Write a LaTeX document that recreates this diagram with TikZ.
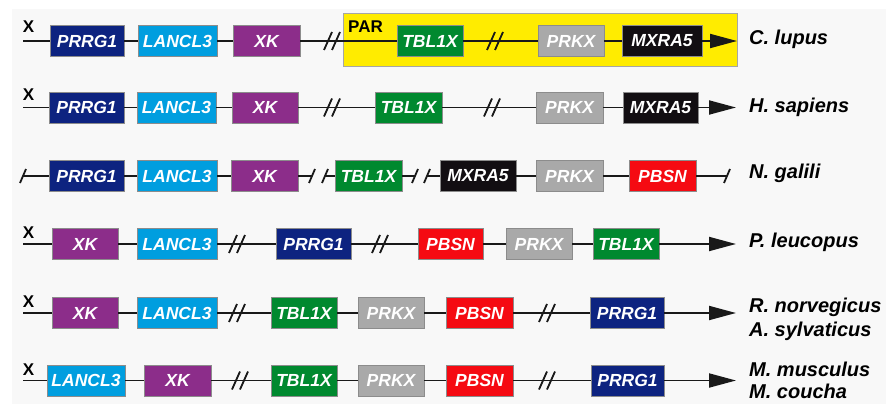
\documentclass[tikz,border=0pt]{standalone}
\usepackage{fontspec}
\setmainfont{Liberation Sans}
\usetikzlibrary{arrows.meta}

\definecolor{cNavy}{HTML}{0D2380}
\definecolor{cSky}{HTML}{009EDF}
\definecolor{cPurple}{HTML}{8C2D8A}
\definecolor{cGreen}{HTML}{00892F}
\definecolor{cGray}{HTML}{A9A9A9}
\definecolor{cBlack}{HTML}{120E12}
\definecolor{cRed}{HTML}{F50A12}
\definecolor{cYellow}{HTML}{FFEC00}
\definecolor{cPanel}{HTML}{F8F8F8}

\tikzset{
  gene/.style={draw=black!45, line width=0.7pt, minimum height=31pt, inner sep=0pt,
    text=white, font=\fontsize{17.5}{20}\selectfont\bfseries\itshape},
  chrom/.style={line width=1.9pt, black!90},
  tochr/.style={chrom, -{Triangle[length=27pt,width=14pt]}},
  slashln/.style={line width=1.8pt, black!90},
  species/.style={anchor=base west, inner sep=0pt, font=\fontsize{20}{22}\selectfont\bfseries\itshape},
  xmark/.style={inner sep=0pt, font=\fontsize{17}{20}\selectfont\bfseries},
  dbreak/.pic={\draw[slashln] (-8,9) -- (0,-9) (0,9) -- (8,-9);},
  sbreak/.pic={\draw[slashln] (-3,7) -- (3,-7);}
}

% \gene{name}{left}{right}{y}{colour}{text}
\newcommand\gene[6]{\node[gene, fill=#5, minimum width={#3-#2}] (#1) at ({(#2+#3)/2},#4) {#6};}

\begin{document}
\begin{tikzpicture}[x=1pt,y=-1pt]
\useasboundingbox (0,0) rectangle (886,404);
\fill[white] (0,0) rectangle (886,404);
\fill[cPanel] (12,9) rectangle (886,404);

% pseudoautosomal region
\node[draw=black!35, line width=0.8pt, fill=cYellow, minimum width=394pt, minimum height=53pt,
  inner sep=0pt] (par) at (540,39.5) {};
\node[anchor=base west, inner sep=0pt, font=\fontsize{17}{20}\selectfont\bfseries] (partxt) at (348,33) {PAR};

% ---- C. lupus
\node[xmark] (x1) at (28.5,26.5) {X};
\coordinate (r1s) at (23,41);
\gene{r1a}{50}{124}{41}{cNavy}{PRRG1}
\gene{r1b}{138}{217}{41}{cSky}{LANCL3}
\gene{r1c}{233}{300}{41}{cPurple}{XK}
\gene{r1d}{397}{463}{41}{cGreen}{TBL1X}
\gene{r1e}{538}{604}{41}{cGray}{PRKX}
\gene{r1f}{622}{702}{41}{cBlack}{MXRA5}
\coordinate (r1t) at (737,41);
\draw[tochr] (r1s) -- (r1a) -- (r1b) -- (r1c) -- (r1d) -- (r1e) -- (r1f) -- (r1t);
\pic at (332,41) {dbreak};
\pic at (495,41) {dbreak};
\node[species] (l1) at (749,45) {C. lupus};

% ---- H. sapiens
\node[xmark] (x2) at (28.5,94.5) {X};
\coordinate (r2s) at (23,107.5);
\gene{r2a}{49}{124}{107.5}{cNavy}{PRRG1}
\gene{r2b}{137}{216}{107.5}{cSky}{LANCL3}
\gene{r2c}{232}{298}{107.5}{cPurple}{XK}
\gene{r2d}{375}{442}{107.5}{cGreen}{TBL1X}
\gene{r2e}{536}{603}{107.5}{cGray}{PRKX}
\gene{r2f}{623}{698}{107.5}{cBlack}{MXRA5}
\coordinate (r2t) at (736,107.5);
\draw[tochr] (r2s) -- (r2a) -- (r2b) -- (r2c) -- (r2d) -- (r2e) -- (r2f) -- (r2t);
\pic at (332,107.5) {dbreak};
\pic at (492,107.5) {dbreak};
\node[species] (l2) at (749,112) {H. sapiens};

% ---- N. galili
\coordinate (r3s) at (23,176);
\gene{r3a}{49}{124}{176}{cNavy}{PRRG1}
\gene{r3b}{137}{217}{176}{cSky}{LANCL3}
\gene{r3c}{231}{298}{176}{cPurple}{XK}
\coordinate (r3g1) at (312,176);
\coordinate (r3g2) at (325,176);
\gene{r3d}{335}{402}{176}{cGreen}{TBL1X}
\coordinate (r3g3) at (415,176);
\coordinate (r3g4) at (427,176);
\gene{r3e}{440}{516}{176}{cBlack}{MXRA5}
\gene{r3f}{536}{603}{176}{cGray}{PRKX}
\gene{r3g}{629}{696}{176}{cRed}{PBSN}
\coordinate (r3t) at (727,176);
\draw[chrom] (r3s) -- (r3a) -- (r3b) -- (r3c) -- (r3g1);
\draw[chrom] (r3g2) -- (r3d) -- (r3g3);
\draw[chrom] (r3g4) -- (r3e) -- (r3f) -- (r3g) -- (r3t);
\pic at (r3s) {sbreak};
\pic at (r3g1) {sbreak};
\pic at (r3g2) {sbreak};
\pic at (r3g3) {sbreak};
\pic at (r3g4) {sbreak};
\pic at (r3t) {sbreak};
\node[species] (l3) at (749,178) {N. galili};

% ---- P. leucopus
\node[xmark] (x4) at (28.5,233) {X};
\coordinate (r4s) at (23,244);
\gene{r4a}{52}{118}{244}{cPurple}{XK}
\gene{r4b}{137}{217}{244}{cSky}{LANCL3}
\gene{r4c}{276}{351}{244}{cNavy}{PRRG1}
\gene{r4d}{418}{483}{244}{cRed}{PBSN}
\gene{r4e}{506}{572}{244}{cGray}{PRKX}
\gene{r4f}{593}{659}{244}{cGreen}{TBL1X}
\coordinate (r4t) at (736,244);
\draw[tochr] (r4s) -- (r4a) -- (r4b) -- (r4c) -- (r4d) -- (r4e) -- (r4f) -- (r4t);
\pic at (237,244) {dbreak};
\pic at (380,244) {dbreak};
\node[species] (l4) at (749,247) {P. leucopus};

% ---- R. norvegicus / A. sylvaticus
\node[xmark] (x5) at (28.5,301.5) {X};
\coordinate (r5s) at (23,313);
\gene{r5a}{52}{118}{313}{cPurple}{XK}
\gene{r5b}{137}{217}{313}{cSky}{LANCL3}
\gene{r5c}{271}{337}{313}{cGreen}{TBL1X}
\gene{r5d}{358}{424}{313}{cGray}{PRKX}
\gene{r5e}{446}{513}{313}{cRed}{PBSN}
\gene{r5f}{590}{664}{313}{cNavy}{PRRG1}
\coordinate (r5t) at (736,313);
\draw[tochr] (r5s) -- (r5a) -- (r5b) -- (r5c) -- (r5d) -- (r5e) -- (r5f) -- (r5t);
\pic at (237,313) {dbreak};
\pic at (547,313) {dbreak};
\node[species] (l5a) at (749,312) {R. norvegicus};
\node[species] (l5b) at (749,336) {A. sylvaticus};

% ---- M. musculus / M. coucha
\node[xmark] (x6) at (28.5,369.5) {X};
\coordinate (r6s) at (23,380.5);
\gene{r6a}{47}{125}{380.5}{cSky}{LANCL3}
\gene{r6b}{144}{211}{380.5}{cPurple}{XK}
\gene{r6c}{271}{337}{380.5}{cGreen}{TBL1X}
\gene{r6d}{358}{424}{380.5}{cGray}{PRKX}
\gene{r6e}{446}{513}{380.5}{cRed}{PBSN}
\gene{r6f}{591}{664}{380.5}{cNavy}{PRRG1}
\coordinate (r6t) at (736,380.5);
\draw[tochr] (r6s) -- (r6a) -- (r6b) -- (r6c) -- (r6d) -- (r6e) -- (r6f) -- (r6t);
\pic at (240,380.5) {dbreak};
\pic at (547,380.5) {dbreak};
\node[species] (l6a) at (749,376) {M. musculus};
\node[species] (l6b) at (749,398) {M. coucha};
\end{tikzpicture}
\end{document}
